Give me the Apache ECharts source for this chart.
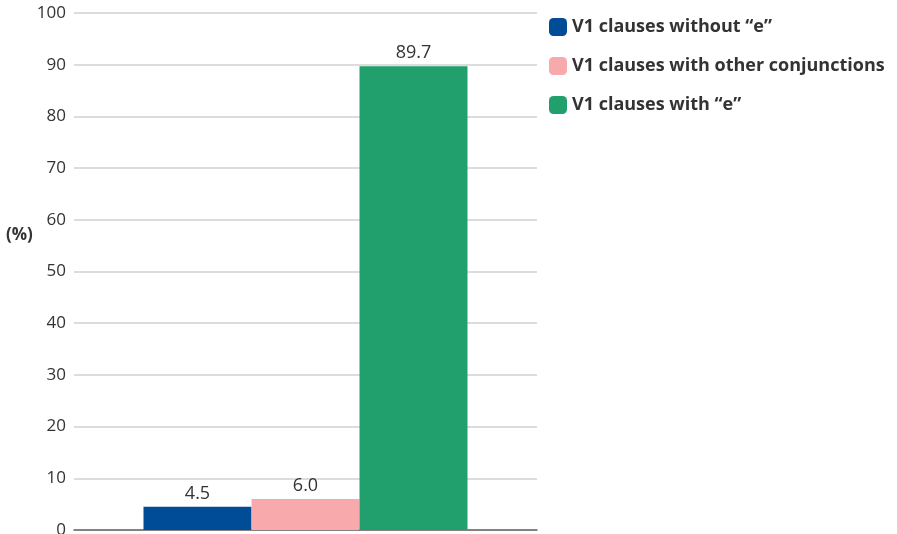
<!DOCTYPE html>
<html>
<head>
<meta charset="utf-8">
<script src="https://cdn.jsdelivr.net/npm/echarts@6/dist/echarts.min.js"></script>
<style>
  html, body { margin: 0; padding: 0; background: #fff; }
  #chart { width: 897px; height: 534px; }
</style>
</head>
<body>
<div id="chart"></div>
<script>
// Share of V1 clauses by type (%)
const categories = [''];
const seriesNames = ['V1 clauses without \u201ce\u201d', 'V1 clauses with other conjunctions', 'V1 clauses with \u201ce\u201d'];
const seriesValues = [[4.5], [6.0], [89.7]];
const seriesColors = ['#004C97', '#F7A9AC', '#21A06E'];

const chart = echarts.init(document.getElementById('chart'));
chart.setOption({
  animation: false,
  textStyle: { fontFamily: 'Open Sans' },
  grid: { left: 74, right: 360, top: 13, bottom: 4, containLabel: false, outerBoundsMode: 'none' },
  legend: {
    orient: 'vertical',
    left: 544,
    top: 13,
    itemWidth: 18,
    itemHeight: 18,
    itemGap: 21,
    icon: 'roundRect',
    textStyle: { fontFamily: 'Open Sans', fontWeight: 'bold', fontSize: 18, color: '#333' },
    data: seriesNames
  },
  graphic: [{
    type: 'text',
    left: 6,
    top: 227,
    style: { text: '(%)', fontFamily: 'Open Sans', fontWeight: 'bold', fontSize: 17, fill: '#333' }
  }],
  xAxis: {
    type: 'category',
    data: categories,
    axisTick: { show: false },
    axisLabel: { show: false },
    axisLine: { lineStyle: { color: '#666', width: 1.5 } }
  },
  yAxis: {
    type: 'value',
    min: 0,
    max: 100,
    interval: 10,
    axisLine: { show: false },
    axisTick: { show: false },
    axisLabel: { color: '#333', fontSize: 17, margin: 8, fontFamily: 'Open Sans' },
    splitLine: { lineStyle: { color: '#d0d0d0', width: 1.5 } }
  },
  series: seriesNames.map((name, i) => ({
    name: name,
    type: 'bar',
    data: seriesValues[i],
    barWidth: 108,
    barGap: '0%',
    itemStyle: { color: seriesColors[i] },
    label: {
      show: true,
      position: 'top',
      distance: 4,
      color: '#333',
      fontSize: 18,
      fontFamily: 'Open Sans',
      formatter: p => p.value.toFixed(1)
    }
  }))
});
</script>
</body>
</html>
